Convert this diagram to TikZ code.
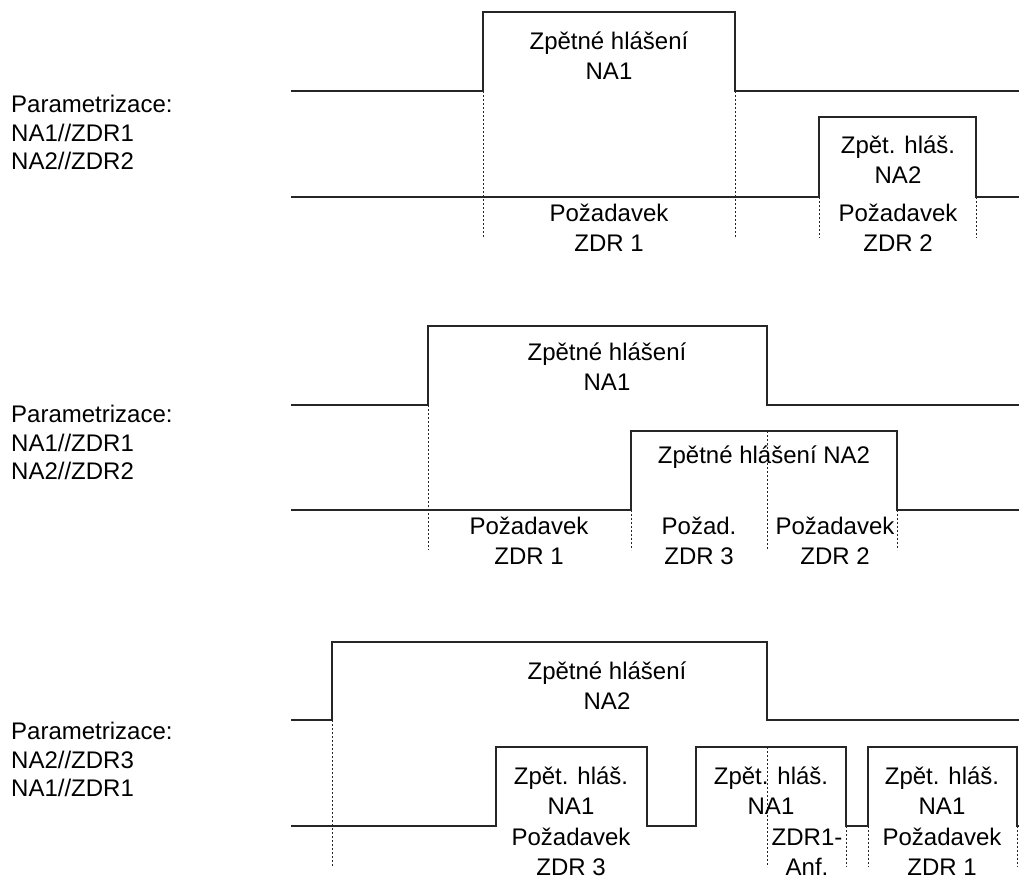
\documentclass[tikz,border=0pt]{standalone}
\usepackage{fontspec}
\setmainfont{Liberation Sans}
\begin{document}
\begin{tikzpicture}[x=1pt, y=-1pt,
        sig/.style={line width=1.7pt, draw=black!85, line join=miter},
        guide/.style={line width=1pt, draw=black!85, dash pattern=on 2pt off 2pt},
        lbl/.style={align=center, inner sep=0pt, font=\fontsize{24}{30}\selectfont},
        param/.style={align=left, anchor=west, inner sep=0pt, font=\fontsize{24}{28.5}\selectfont}]
            \useasboundingbox (0, 0) rectangle (1019, 880);

            \node (param1) at (11, 132.5) [param] {Parametrizace:\\NA1//ZDR1\\NA2//ZDR2};
            \draw[sig] (291, 91) -- (483, 91) -- (483, 12) -- (735, 12) -- (735, 91) -- (1019, 91);
            \draw[sig] (291, 197) -- (819, 197) -- (819, 117) -- (976, 117) -- (976, 197) -- (1019, 197);
            \draw[guide] (483, 91) -- (483, 238);
            \draw[guide] (735, 91) -- (735, 238);
            \draw[guide] (819, 197) -- (819, 238);
            \draw[guide] (976, 197) -- (976, 238);
            \node (fb1) at (609, 55.5) [lbl] {Zpětné hlášení\\NA1};
            \node (fb2) at (898, 159.5) [lbl] {Zpět. hláš.\\NA2};
            \node (req1) at (609, 228) [lbl] {Požadavek\\ZDR 1};
            \node (req2) at (898, 228) [lbl] {Požadavek\\ZDR 2};

            \node (param2) at (11, 442.5) [param] {Parametrizace:\\NA1//ZDR1\\NA2//ZDR2};
            \draw[sig] (291, 405) -- (428, 405) -- (428, 326) -- (767, 326) -- (767, 405) -- (1019, 405);
            \draw[sig] (291, 510) -- (631, 510) -- (631, 431) -- (897, 431) -- (897, 510) -- (1019, 510);
            \draw[guide] (428, 405) -- (428, 550);
            \draw[guide] (631, 510) -- (631, 550);
            \draw[guide] (767, 431) -- (767, 550);
            \draw[guide] (897, 510) -- (897, 550);
            \node (fb3) at (607, 367) [lbl] {Zpětné hlášení\\NA1};
            \node (fb4) at (764, 457) [lbl] {Zpětné hlášení NA2};
            \node (req3) at (529, 541) [lbl] {Požadavek\\ZDR 1};
            \node (req4) at (699, 541) [lbl] {Požad.\\ZDR 3};
            \node (req5) at (835, 541) [lbl] {Požadavek\\ZDR 2};

            \node (param3) at (11, 759.5) [param] {Parametrizace:\\NA2//ZDR3\\NA1//ZDR1};
            \draw[sig] (291, 720) -- (332, 720) -- (332, 642) -- (767, 642) -- (767, 720) -- (1019, 720);
            \draw[sig] (291, 826) -- (496, 826) -- (496, 747) -- (647, 747) -- (647, 826) -- (696, 826)
                -- (696, 747) -- (846, 747) -- (846, 826) -- (868, 826) -- (868, 747) -- (1017, 747)
                -- (1017, 826) -- (1019, 826);
            \draw[guide] (332, 720) -- (332, 867);
            \draw[guide] (767, 747) -- (767, 867);
            \draw[guide] (846, 826) -- (846, 867);
            \draw[guide] (868, 826) -- (868, 867);
            \draw[guide] (1017, 826) -- (1017, 867);
            \node (fb5) at (607, 686) [lbl] {Zpětné hlášení\\NA2};
            \node (fb6) at (571, 791) [lbl] {Zpět. hláš.\\NA1};
            \node (fb7) at (771, 791) [lbl] {Zpět. hláš.\\NA1};
            \node (fb8) at (942, 791) [lbl] {Zpět. hláš.\\NA1};
            \node (req6) at (571, 852) [lbl] {Požadavek\\ZDR 3};
            \node (req7) at (807, 852) [lbl] {ZDR1-\\Anf.};
            \node (req8) at (942, 852) [lbl] {Požadavek\\ZDR 1};
        \end{tikzpicture}
\end{document}
